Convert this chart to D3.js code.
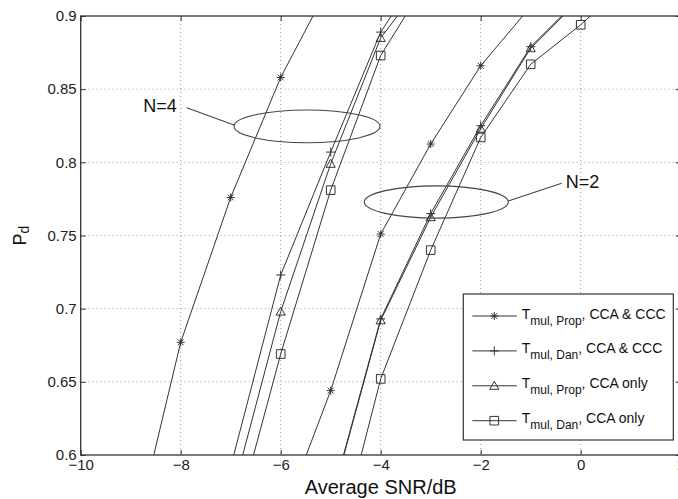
<!DOCTYPE html>
<html>
<head>
<meta charset="utf-8">
<script src="https://cdn.jsdelivr.net/npm/d3@7"></script>
<style>
  html, body { margin: 0; padding: 0; background: #fff; }
  svg { display: block; font-family: "Liberation Sans", Arial, sans-serif; }
</style>
</head>
<body>
<svg id="chart" width="678" height="499"></svg>
<script>
// ---------------- data ----------------
const xTicks = [-10, -8, -6, -4, -2, 0, 2];
const yTicks = [0.6, 0.65, 0.7, 0.75, 0.8, 0.85, 0.9];

// N = 4 curves
const snrN4 = [-9, -8, -7, -6, -5, -4, -3];
const pdN4PropCCC = [0.534, 0.677, 0.776, 0.858, 0.923, null, null];
const pdN4DanCCC  = [null, null, 0.592, 0.723, 0.807, 0.889, 0.941];
const pdN4PropCCA = [null, null, 0.569, 0.698, 0.799, 0.885, 0.930];
const pdN4DanCCA  = [null, null, 0.542, 0.669, 0.781, 0.873, 0.928];

// N = 2 curves
const snrN2 = [-6, -5, -4, -3, -2, -1, 0, 1];
const pdN2PropCCC = [0.554, 0.644, 0.751, 0.8125, 0.866, 0.9065, null, null];
const pdN2DanCCC  = [null, 0.568, 0.693, 0.765, 0.825, 0.879, 0.913, null];
const pdN2PropCCA = [null, 0.567, 0.692, 0.7625, 0.823, 0.878, 0.912, null];
const pdN2DanCCA  = [null, 0.519, 0.652, 0.740, 0.817, 0.867, 0.894, 0.925];

const legendSubs  = ["mul, Prop", "mul, Dan", "mul, Prop", "mul, Dan"];
const legendTails = [", CCA & CCC", ", CCA & CCC", ", CCA only", ", CCA only"];
const legendMarks = ["star", "plus", "triangle", "square"];

// group annotations (data units)
const groupLabels = ["N=4", "N=2"];
const groupEllipse = [
  {cx: -5.474, cy: 0.8246, rx: 1.46, ry: 0.0112},
  {cx: -2.888, cy: 0.7729, rx: 1.44, ry: 0.0110}
];
const groupLeader = [
  {x1: -7.88, y1: 0.8373, x2: -6.934, y2: 0.8255},
  {x1: -1.448, y1: 0.7736, x2: -0.38, y2: 0.7857}
];
const groupText = [
  {x: -8.414, y: 0.8342},
  {x: 0.036, y: 0.7823}
];

// ---------------- setup ----------------
const svg = d3.select("#chart");
const L = 80.7, R = 680.7, T = 16, B = 455;
const x = d3.scaleLinear().domain([-10, 2]).range([L, R]);
const y = d3.scaleLinear().domain([0.6, 0.9]).range([B, T]);
const ink = "#333";

svg.append("defs").append("clipPath").attr("id", "plotclip")
  .append("rect").attr("x", L).attr("y", T).attr("width", R - L).attr("height", B - T);

// grid
const grid = svg.append("g");
grid.selectAll("line.vx").data(xTicks.filter(d => d > -10 && d < 2)).join("line")
  .attr("x1", d => x(d)).attr("x2", d => x(d)).attr("y1", T).attr("y2", B)
  .attr("stroke", "#9a9a9a").attr("stroke-width", 1).attr("stroke-dasharray", "1,3");
grid.selectAll("line.hy").data(yTicks.filter(d => d > 0.6 && d < 0.9)).join("line")
  .attr("y1", d => y(d)).attr("y2", d => y(d)).attr("x1", L).attr("x2", R)
  .attr("stroke", "#9a9a9a").attr("stroke-width", 1).attr("stroke-dasharray", "1,3");

// series
const series = [
  {snr: snrN4, pd: pdN4PropCCC, mark: "star"},
  {snr: snrN4, pd: pdN4DanCCC, mark: "plus"},
  {snr: snrN4, pd: pdN4PropCCA, mark: "triangle"},
  {snr: snrN4, pd: pdN4DanCCA, mark: "square"},
  {snr: snrN2, pd: pdN2PropCCC, mark: "star"},
  {snr: snrN2, pd: pdN2DanCCC, mark: "plus"},
  {snr: snrN2, pd: pdN2PropCCA, mark: "triangle"},
  {snr: snrN2, pd: pdN2DanCCA, mark: "square"}
];

function markerPath(type) {
  const p = d3.path();
  if (type === "star") {
    const r = 4, q = 2.9;
    p.moveTo(-r, 0); p.lineTo(r, 0);
    p.moveTo(0, -r); p.lineTo(0, r);
    p.moveTo(-q, -q); p.lineTo(q, q);
    p.moveTo(-q, q); p.lineTo(q, -q);
  } else if (type === "plus") {
    const r = 4.5;
    p.moveTo(-r, 0); p.lineTo(r, 0);
    p.moveTo(0, -r); p.lineTo(0, r);
  } else if (type === "triangle") {
    p.moveTo(0, -4.5); p.lineTo(4.6, 3.5); p.lineTo(-4.6, 3.5); p.closePath();
  } else {
    p.rect(-4.3, -4.3, 8.6, 8.6);
  }
  return p.toString();
}

const plot = svg.append("g").attr("clip-path", "url(#plotclip)");
const line = d3.line().defined(d => d.p != null).x(d => x(d.s)).y(d => y(d.p));

series.forEach(sr => {
  const pts = sr.snr.map((s, i) => ({s: s, p: sr.pd[i]}));
  plot.append("path").datum(pts)
    .attr("d", line).attr("fill", "none").attr("stroke", ink).attr("stroke-width", 1);
  plot.selectAll(null).data(pts.filter(d => d.p != null)).join("path")
    .attr("transform", d => `translate(${x(d.s)},${y(d.p)})`)
    .attr("d", markerPath(sr.mark))
    .attr("fill", "none").attr("stroke", ink).attr("stroke-width", 1);
});

// annotations
const ann = svg.append("g");
groupLabels.forEach((lab, i) => {
  const e = groupEllipse[i];
  ann.append("ellipse")
    .attr("cx", x(e.cx)).attr("cy", y(e.cy))
    .attr("rx", x(e.cx + e.rx) - x(e.cx)).attr("ry", y(e.cy) - y(e.cy + e.ry))
    .attr("fill", "none").attr("stroke", "#444").attr("stroke-width", 1.1);
  const l = groupLeader[i];
  ann.append("line")
    .attr("x1", x(l.x1)).attr("y1", y(l.y1)).attr("x2", x(l.x2)).attr("y2", y(l.y2))
    .attr("stroke", "#444").attr("stroke-width", 1.1);
  const t = groupText[i];
  ann.append("text").attr("x", x(t.x)).attr("y", y(t.y))
    .attr("text-anchor", "middle").attr("font-size", 18).attr("fill", "#111").text(lab);
});

// legend
const lg = svg.append("g");
const lgX = 463.3, lgY = 294, lgW = 210, lgH = 146;
lg.append("rect").attr("x", lgX).attr("y", lgY).attr("width", lgW).attr("height", lgH)
  .attr("fill", "#fff").attr("stroke", ink).attr("stroke-width", 1.2);
legendMarks.forEach((m, i) => {
  const cy = 316 + i * 34.9;
  lg.append("line").attr("x1", 472.3).attr("x2", 516.7).attr("y1", cy).attr("y2", cy)
    .attr("stroke", ink).attr("stroke-width", 1);
  lg.append("path").attr("transform", `translate(494.3,${cy})`).attr("d", markerPath(m))
    .attr("fill", "none").attr("stroke", ink).attr("stroke-width", 1);
  const tx = lg.append("text").attr("x", 521.7).attr("y", cy + 2.5)
    .attr("font-size", 14).attr("fill", "#111");
  tx.append("tspan").text("T");
  tx.append("tspan").attr("font-size", 12).attr("dy", 6).text(legendSubs[i]);
  tx.append("tspan").attr("dy", -6).text(legendTails[i]);
});

// axes
const fmt = d3.format("");
const gx = svg.append("g").attr("transform", `translate(0,${B})`)
  .call(d3.axisBottom(x).tickValues(xTicks).tickSize(-5).tickPadding(4).tickFormat(d => fmt(d)));
const gy = svg.append("g").attr("transform", `translate(${L},0)`)
  .call(d3.axisLeft(y).tickValues(yTicks).tickSize(-5).tickPadding(4).tickFormat(d => fmt(d)));
const gt = svg.append("g").attr("transform", `translate(0,${T})`)
  .call(d3.axisTop(x).tickValues(xTicks).tickSize(-5).tickFormat(""));
const gr = svg.append("g").attr("transform", `translate(${R},0)`)
  .call(d3.axisRight(y).tickValues(yTicks).tickSize(-5).tickFormat(""));
[gx, gy, gt, gr].forEach(g => {
  g.select(".domain").remove();
  g.selectAll(".tick line").attr("stroke", ink).attr("stroke-width", 1);
  g.selectAll(".tick text").attr("font-size", 15).attr("fill", "#222")
    .attr("font-family", "Liberation Sans, Arial, sans-serif");
});

svg.append("rect").attr("x", L).attr("y", T).attr("width", R - L).attr("height", B - T)
  .attr("fill", "none").attr("stroke", ink).attr("stroke-width", 1.3);

// axis titles
svg.append("text").attr("x", (L + R) / 2).attr("y", 494)
  .attr("text-anchor", "middle").attr("font-size", 20).attr("fill", "#111")
  .text("Average SNR/dB");
const yl = svg.append("text").attr("transform", `translate(25.5,${(T + B) / 2}) rotate(-90)`)
  .attr("text-anchor", "middle").attr("font-size", 18).attr("fill", "#111");
yl.append("tspan").text("P");
yl.append("tspan").attr("font-size", 14).attr("dy", 3).text("d");
</script>
</body>
</html>
